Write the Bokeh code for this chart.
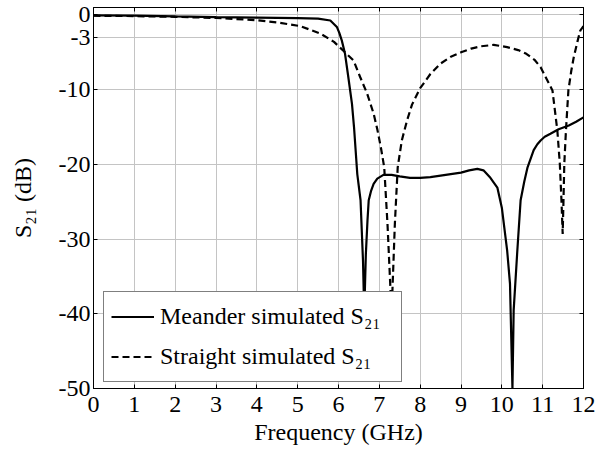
from bokeh.plotting import figure
from bokeh.models import Range1d, FixedTicker, LinearAxis, Legend, LegendItem
from bokeh.embed import file_html
from bokeh.resources import INLINE

# ---- data ----
freq_meander = [0, 1, 2, 3, 4, 5, 5.5, 5.8, 5.96, 6.02, 6.08, 6.16, 6.24, 6.33, 6.38,
                6.46, 6.54, 6.6, 6.63, 6.67, 6.71, 6.74, 6.8, 6.86, 6.95, 7.1,
                7.3, 7.5, 7.75, 8.0, 8.25, 8.5, 8.75, 9.0, 9.2, 9.4, 9.55, 9.72, 9.89,
                10.0, 10.13, 10.2, 10.26, 10.29, 10.38, 10.46, 10.55, 10.63, 10.78,
                10.87, 10.95, 11.05, 11.19, 11.39, 11.64, 11.82, 12.0]
s21_meander = [-0.05, -0.1, -0.2, -0.28, -0.35, -0.42, -0.5, -0.74, -1.6, -2.4, -3.4,
               -5.2, -8.3, -11.9, -15.0, -21.3, -24.8, -32.9, -40.0, -32.0,
               -27.5, -24.8, -23.5, -22.6, -21.9, -21.4, -21.4, -21.6, -21.8, -21.8,
               -21.7, -21.5, -21.3, -21.1, -20.8, -20.6, -20.8, -21.8, -23.1, -25.8,
               -31.5, -36.0, -50.0, -39.5, -31.5, -24.8, -22.3, -20.4, -18.1,
               -17.3, -16.8, -16.3, -15.9, -15.3, -14.8, -14.3, -13.7]

freq_straight = [0, 1, 2, 3, 4, 4.5, 5.07, 5.56, 5.89, 6.16, 6.37, 6.53, 6.7, 6.86,
                 6.95, 7.04, 7.12, 7.2, 7.3, 7.38, 7.45, 7.55, 7.68, 7.8, 8.0, 8.25,
                 8.5, 8.75, 9.0, 9.25, 9.48, 9.8, 10.13, 10.4, 10.6, 10.8, 10.95, 11.1,
                 11.24, 11.36, 11.42, 11.46, 11.49, 11.51, 11.53, 11.57, 11.63, 11.7,
                 11.76, 11.85, 11.92, 12.0]
s21_straight = [-0.1, -0.15, -0.25, -0.4, -0.7, -1.0, -1.5, -2.5, -3.6, -5.0, -6.1,
                -8.3, -10.5, -13.2, -15.3, -17.8, -20.4, -28.0, -40.0, -28.0, -20.4,
                -16.8, -14.1, -12.0, -9.8, -7.9, -6.5, -5.6, -5.0, -4.5, -4.2, -4.0,
                -4.3, -4.7, -5.2, -6.0, -7.0, -8.6, -10.1, -15.5, -19.9, -24.8, -29.3,
                -24.8, -19.9, -15.5, -10.1, -7.5, -5.7, -3.6, -2.1, -1.5]

x_ticks = [0, 1, 2, 3, 4, 5, 6, 7, 8, 9, 10, 11, 12]
y_ticks = [-50, -40, -30, -20, -10, -3, 0]
y_tick_labels = ["-50", "-40", "-30", "-20", "-10", "-3", "0"]
legend_labels = ["Meander simulated S\u2082\u2081", "Straight simulated S\u2082\u2081"]
x_label = "Frequency (GHz)"
y_label = "S\u2082\u2081 (dB)"

FONT = "Liberation Serif"

p = figure(width=604, height=452, output_backend="svg", toolbar_location=None,
           x_range=Range1d(0, 12), y_range=Range1d(-50, 1),
           min_border_left=93, min_border_right=21, min_border_top=7,
           min_border_bottom=64)
p.background_fill_color = "white"
p.border_fill_color = "white"
p.outline_line_color = "black"
p.outline_line_width = 1

for ax, ticks in ((p.xaxis[0], x_ticks), (p.yaxis[0], y_ticks)):
    ax.ticker = FixedTicker(ticks=ticks)
    ax.axis_line_color = "black"
    ax.major_tick_line_color = "black"
    ax.major_tick_in = 4
    ax.major_tick_out = 0
    ax.minor_tick_line_color = None
    ax.major_label_text_font = FONT
    ax.major_label_text_font_size = "24px"
    ax.major_label_text_color = "black"
    ax.axis_label_text_font = FONT
    ax.axis_label_text_font_size = "24px"
    ax.axis_label_text_font_style = "normal"
    ax.axis_label_text_color = "black"

p.yaxis[0].major_label_overrides = dict(zip(y_ticks, y_tick_labels))
p.xaxis[0].major_label_standoff = 8
p.yaxis[0].major_label_standoff = 3
p.xaxis[0].axis_label = x_label
p.xaxis[0].axis_label_standoff = 4
p.yaxis[0].axis_label = y_label
p.yaxis[0].axis_label_standoff = 20

for loc, ticks in (("above", x_ticks), ("right", y_ticks)):
    ax = LinearAxis(ticker=FixedTicker(ticks=ticks),
                    major_label_overrides={t: "" for t in ticks},
                    major_tick_in=4, major_tick_out=0, major_label_standoff=0,
                    minor_tick_line_color=None, axis_line_color="black")
    p.add_layout(ax, loc)

p.xgrid.ticker = FixedTicker(ticks=x_ticks)
p.ygrid.ticker = FixedTicker(ticks=y_ticks)
p.grid.grid_line_color = "#c4c4c4"
p.grid.grid_line_width = 1

r1 = p.line(freq_meander, s21_meander, line_color="black", line_width=2.2)
r2 = p.line(freq_straight, s21_straight, line_color="black", line_width=2.2,
            line_dash="7 4")

legend = Legend(items=[LegendItem(label=legend_labels[0], renderers=[r1]),
                       LegendItem(label=legend_labels[1], renderers=[r2])],
                location=(10, 6), orientation="vertical",
                border_line_color="black", border_line_width=1,
                background_fill_color="white", background_fill_alpha=1.0,
                padding=7, spacing=5, margin=0,
                glyph_width=43, glyph_height=35, label_height=35,
                label_width=234, label_standoff=6,
                label_text_font=FONT, label_text_font_size="24px",
                label_text_color="black")
p.add_layout(legend, "center")

open("out.html", "w").write(file_html(p, INLINE))
